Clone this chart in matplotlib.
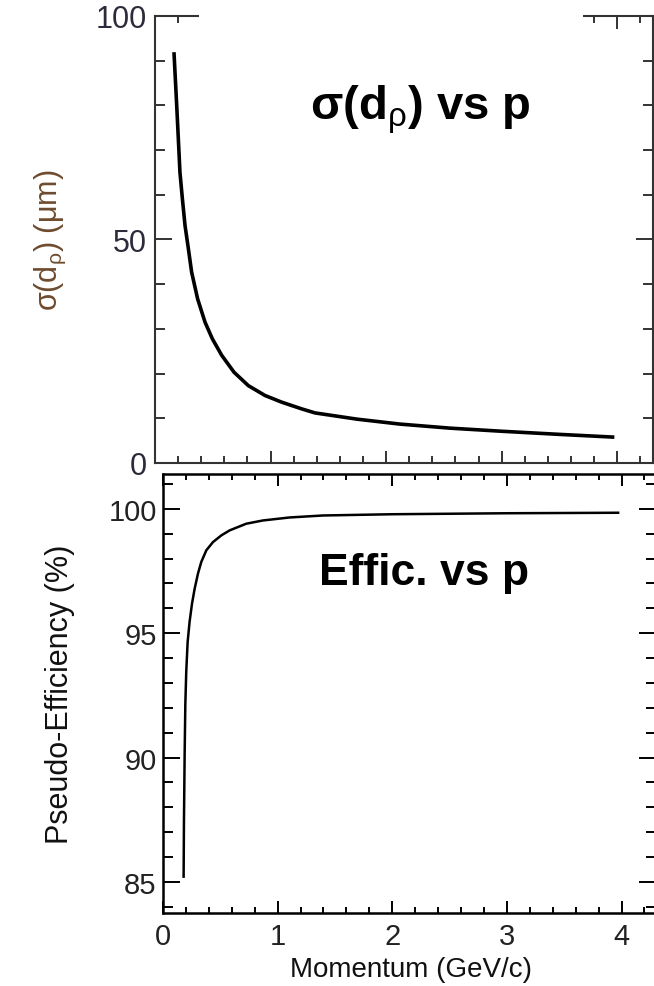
import matplotlib
matplotlib.use("Agg")
import matplotlib.pyplot as plt
from matplotlib.patches import Rectangle
from matplotlib.ticker import MultipleLocator

plt.rcParams['font.family'] = ['Liberation Sans', 'DejaVu Sans']
plt.rcParams['mathtext.fontset'] = 'custom'
plt.rcParams['mathtext.rm'] = 'Liberation Sans'
plt.rcParams['mathtext.it'] = 'Liberation Sans'
plt.rcParams['mathtext.bf'] = 'Liberation Sans:bold'

# sigma(d_rho) vs momentum
p_sig = [0.165, 0.188, 0.202, 0.216, 0.237, 0.260, 0.289, 0.317, 0.369, 0.433, 0.496,
         0.577, 0.684, 0.808, 0.952, 1.097, 1.27, 1.385, 1.75, 2.12, 2.55, 3.0, 3.5, 3.96]
sig = [91.5, 79.9, 72.5, 65.0, 59.1, 53.1, 47.9, 42.7, 36.7, 31.5, 27.8,
       24.1, 20.3, 17.3, 15.1, 13.6, 12.1, 11.2, 9.8, 8.7, 7.8, 7.1, 6.4, 5.8]

# pseudo-efficiency vs momentum
p_eff = [0.180, 0.183, 0.189, 0.195, 0.203, 0.215, 0.232, 0.253, 0.276, 0.305, 0.334,
         0.378, 0.436, 0.509, 0.581, 0.727, 0.872, 1.104, 1.395, 2.0, 2.5, 3.0, 3.5, 3.97]
eff = [85.21, 87.42, 90.14, 92.15, 93.45, 94.64, 95.45, 96.18, 96.78, 97.39, 97.86,
       98.33, 98.66, 98.93, 99.13, 99.40, 99.53, 99.65, 99.73, 99.78, 99.80, 99.82, 99.83, 99.84]

fig = plt.figure(figsize=(6.54, 9.87), dpi=100)
ax1 = fig.add_axes([0.2370, 0.5299, 0.7615, 0.4529])
ax2 = fig.add_axes([0.2492, 0.0740, 0.7538, 0.4448])

# ---- top panel
ax1.plot(p_sig, sig, color='black', lw=2.6, solid_joinstyle='round')
ax1.set_xlim(0, 4.31)
ax1.set_ylim(0, 100)
ax1.xaxis.set_major_locator(MultipleLocator(1))
ax1.xaxis.set_minor_locator(MultipleLocator(0.2))
ax1.yaxis.set_major_locator(MultipleLocator(50))
ax1.yaxis.set_minor_locator(MultipleLocator(10))
ax1.tick_params(axis='both', which='both', direction='in', top=True, right=True,
                width=1.4, colors='#333333', labelcolor='#2b2b3a')
ax1.tick_params(axis='y', which='major', length=12, pad=6, labelsize=22)
ax1.tick_params(axis='y', which='minor', length=7.5)
ax1.tick_params(axis='x', which='major', length=9, labelbottom=False)
ax1.tick_params(axis='x', which='minor', length=5)
for s in ax1.spines.values():
    s.set_linewidth(1.5)
    s.set_color('#333333')
ax1.set_ylabel(r'σ(d$_\rho$) (μm)', fontsize=22, color='#6e4b2e')
ax1.yaxis.set_label_coords(-0.175, 0.5)
ax1.text(0.532, 0.770, r'σ(d$_\rho$) vs p', transform=ax1.transAxes,
         fontsize=34, fontweight='bold', ha='center', va='baseline')

# ---- bottom panel
ax2.plot(p_eff, eff, color='black', lw=1.8, solid_joinstyle='round')
ax2.set_xlim(0, 4.3)
ax2.set_ylim(83.75, 101.4)
ax2.xaxis.set_major_locator(MultipleLocator(1))
ax2.xaxis.set_minor_locator(MultipleLocator(0.2))
ax2.yaxis.set_major_locator(MultipleLocator(5))
ax2.yaxis.set_minor_locator(MultipleLocator(1))
ax2.tick_params(axis='both', which='both', direction='in', top=True, right=True,
                width=1.4, colors='black', labelcolor='#222222')
ax2.tick_params(axis='y', which='major', length=12, pad=4.5, labelsize=21)
ax2.tick_params(axis='y', which='minor', length=7)
ax2.tick_params(axis='x', which='major', length=8.5, pad=6.5, labelsize=21)
ax2.tick_params(axis='x', which='minor', length=4.5)
for s in ax2.spines.values():
    s.set_linewidth(1.8)
ax2.set_ylabel('Pseudo-Efficiency (%)', fontsize=22, color='#111111')
ax2.yaxis.set_label_coords(-0.178, 0.5)
ax2.set_xlabel('Momentum (GeV/c)', fontsize=20, color='#111111')
ax2.xaxis.set_label_coords(0.503, -0.098)
ax2.text(0.529, 0.749, 'Effic. vs p', transform=ax2.transAxes,
         fontsize=32, fontweight='bold', ha='center', va='baseline')

# the top frame of the upper panel is masked between x~198 and x~583 px
fig.patches.append(Rectangle((199 / 654, 1 - 32 / 987), 384 / 654, 32 / 987,
                             transform=fig.transFigure, facecolor='white',
                             edgecolor='none', zorder=10))

fig.savefig('out.png', dpi=100)
